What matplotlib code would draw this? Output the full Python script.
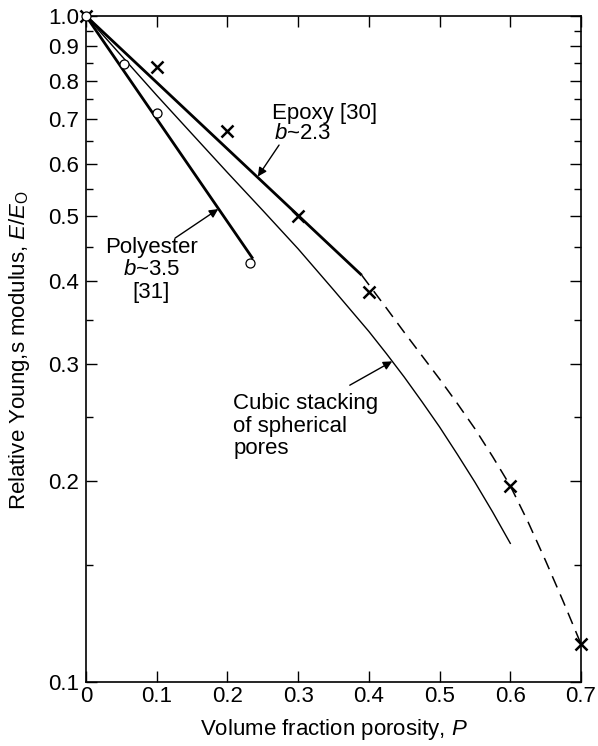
import matplotlib
matplotlib.use("Agg")
import matplotlib.pyplot as plt
from matplotlib.ticker import FixedLocator, NullFormatter

plt.rcParams["font.family"] = ["Liberation Sans", "DejaVu Sans"]
plt.rcParams["mathtext.fontset"] = "custom"
plt.rcParams["mathtext.rm"] = "Liberation Sans"
plt.rcParams["mathtext.it"] = "Liberation Sans:italic"

# Measured data: epoxy (crosses) and polyester (open circles)
epoxy_P = [0.0, 0.1, 0.2, 0.3, 0.4, 0.6, 0.7]
epoxy_E = [1.0, 0.838, 0.673, 0.50, 0.385, 0.197, 0.114]

polyester_P = [0.0, 0.054, 0.10, 0.232]
polyester_E = [1.0, 0.847, 0.715, 0.426]

# Exponential fits E/E0 = exp(-bP): straight lines on the log axis
epoxy_fit_P = [0.0, 0.39]
epoxy_fit_E = [1.0, 0.408]
polyester_fit_P = [0.0, 0.236]
polyester_fit_E = [1.0, 0.432]

# Extrapolation of the epoxy trend to high porosity
epoxy_ext_P = [0.39, 0.425, 0.45, 0.475, 0.50, 0.525, 0.55, 0.575, 0.60,
               0.625, 0.65, 0.675, 0.70]
epoxy_ext_E = [0.408, 0.364, 0.335, 0.309, 0.285, 0.262, 0.240, 0.218, 0.197,
               0.174, 0.152, 0.132, 0.114]

# Cubic stacking of spherical pores model
cubic_P = [0.0, 0.1, 0.15, 0.2, 0.25, 0.3, 0.35, 0.4, 0.425, 0.45, 0.475,
           0.5, 0.525, 0.55, 0.575, 0.6]
cubic_E = [1.0, 0.76, 0.665, 0.582, 0.5105, 0.447, 0.388, 0.336, 0.311, 0.287,
           0.2636, 0.2415, 0.2198, 0.1995, 0.180, 0.1615]

x_ticks = [0, 0.1, 0.2, 0.3, 0.4, 0.5, 0.6, 0.7]
x_ticklabels = ["0", "0.1", "0.2", "0.3", "0.4", "0.5", "0.6", "0.7"]
y_ticks = [0.1, 0.2, 0.3, 0.4, 0.5, 0.6, 0.7, 0.8, 0.9, 1.0]
y_ticklabels = ["0.1", "0.2", "0.3", "0.4", "0.5", "0.6", "0.7", "0.8", "0.9", "1.0"]
y_minor = [0.15, 0.25, 0.35, 0.45, 0.55, 0.65, 0.75, 0.85, 0.95]

FS = 16

fig = plt.figure(figsize=(5.98, 7.46), dpi=100)
ax = fig.add_axes([0.1438, 0.0858, 0.8278, 0.8928])
ax.set_yscale("log")
ax.set_xlim(0, 0.7)
ax.set_ylim(0.1, 1.0)

ax.plot(epoxy_fit_P, epoxy_fit_E, color="black", lw=2.0, solid_capstyle="butt")
ax.plot(polyester_fit_P, polyester_fit_E, color="black", lw=2.0, solid_capstyle="butt")
ax.plot(cubic_P, cubic_E, color="black", lw=1.0)
ax.plot(epoxy_ext_P, epoxy_ext_E, color="black", lw=1.1, dashes=(8, 5))

ax.plot(epoxy_P, epoxy_E, ls="none", marker="x", ms=9, mew=1.8,
        color="black", clip_on=False, zorder=5)
ax.plot(polyester_P, polyester_E, ls="none", marker="o", ms=6.5, mew=0.9,
        mfc="white", mec="black", clip_on=False, zorder=6)

# Ticks
ax.xaxis.set_major_locator(FixedLocator(x_ticks))
ax.set_xticklabels(x_ticklabels)
ax.yaxis.set_major_locator(FixedLocator(y_ticks))
ax.yaxis.set_minor_locator(FixedLocator(y_minor))
ax.set_yticklabels(y_ticklabels)
ax.yaxis.set_minor_formatter(NullFormatter())
ax.tick_params(axis="both", which="major", direction="in", length=8, width=1.0,
               labelsize=FS, top=True, right=True)
ax.tick_params(axis="y", which="minor", direction="in", length=5, width=1.0,
               right=True)
ax.tick_params(axis="x", which="major", pad=3)
ax.tick_params(axis="y", which="major", pad=5)
for s in ax.spines.values():
    s.set_linewidth(1.2)

ax.set_xlabel(r"Volume fraction porosity, $P$", fontsize=FS, labelpad=7)
fig.text(20 / 598, 1 - 350 / 746, r"Relative Young,s modulus, $E/E_\mathrm{O}$",
         rotation=90, ha="center", va="center", fontsize=FS)

arrow = dict(arrowstyle="-|>", lw=1.0, color="black", mutation_scale=13,
             shrinkA=0, shrinkB=0)

# Epoxy label
ax.annotate("", xy=(0.243, 0.574), xytext=(0.273, 0.640), arrowprops=arrow)
ax.text(0.263, 0.715, "Epoxy [30]", fontsize=FS, ha="left", va="center")
ax.text(0.266, 0.665, r"$b$~2.3", fontsize=FS, ha="left", va="center")

# Polyester label
ax.annotate("", xy=(0.187, 0.513), xytext=(0.126, 0.464), arrowprops=arrow)
ax.text(0.092, 0.449, "Polyester", fontsize=FS, ha="center", va="center")
ax.text(0.093, 0.416, r"$b$~3.5", fontsize=FS, ha="center", va="center")
ax.text(0.092, 0.385, "[31]", fontsize=FS, ha="center", va="center")

# Cubic stacking model label
ax.annotate("", xy=(0.433, 0.303), xytext=(0.373, 0.279), arrowprops=arrow)
ax.text(0.208, 0.262, "Cubic stacking", fontsize=FS, ha="left", va="center")
ax.text(0.208, 0.242, "of spherical", fontsize=FS, ha="left", va="center")
ax.text(0.208, 0.224, "pores", fontsize=FS, ha="left", va="center")

fig.savefig("out.png", dpi=100)
